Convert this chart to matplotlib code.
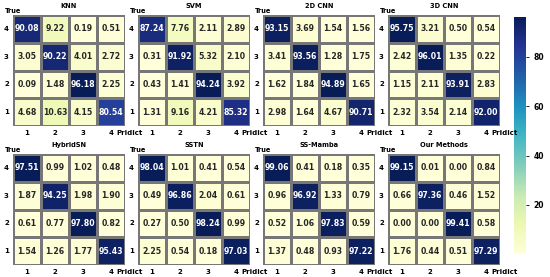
import numpy as np
import matplotlib
matplotlib.use("Agg")
import matplotlib.pyplot as plt
import seaborn as sns

# Data (rows shown top to bottom: True 4, 3, 2, 1; columns: Predict 1..4)
titles = ["KNN", "SVM", "2D CNN", "3D CNN", "HybridSN", "SSTN", "SS-Mamba", "Our Methods"]
row_labels = ["4", "3", "2", "1"]
col_labels = ["1", "2", "3", "4"]

knn = [[90.08, 9.22, 0.19, 0.51],
       [3.05, 90.22, 4.01, 2.72],
       [0.09, 1.48, 96.18, 2.25],
       [4.68, 10.63, 4.15, 80.54]]
svm = [[87.24, 7.76, 2.11, 2.89],
       [0.31, 91.92, 5.32, 2.10],
       [0.43, 1.41, 94.24, 3.92],
       [1.31, 9.16, 4.21, 85.32]]
cnn2d = [[93.15, 3.69, 1.54, 1.56],
         [3.41, 93.56, 1.28, 1.75],
         [1.62, 1.84, 94.89, 1.65],
         [2.98, 1.64, 4.67, 90.71]]
cnn3d = [[95.75, 3.21, 0.50, 0.54],
         [2.42, 96.01, 1.35, 0.22],
         [1.15, 2.11, 93.91, 2.83],
         [2.32, 3.54, 2.14, 92.00]]
hybridsn = [[97.51, 0.99, 1.02, 0.48],
            [1.87, 94.25, 1.98, 1.90],
            [0.61, 0.77, 97.80, 0.82],
            [1.54, 1.26, 1.77, 95.43]]
sstn = [[98.04, 1.01, 0.41, 0.54],
        [0.49, 96.86, 2.04, 0.61],
        [0.27, 0.50, 98.24, 0.99],
        [2.25, 0.54, 0.18, 97.03]]
ssmamba = [[99.06, 0.41, 0.18, 0.35],
           [0.96, 96.92, 1.33, 0.79],
           [0.52, 1.06, 97.83, 0.59],
           [1.37, 0.48, 0.93, 97.22]]
ours = [[99.15, 0.01, 0.00, 0.84],
        [0.66, 97.36, 0.46, 1.52],
        [0.00, 0.00, 99.41, 0.58],
        [1.76, 0.44, 0.51, 97.29]]
matrices = [knn, svm, cnn2d, cnn3d, hybridsn, sstn, ssmamba, ours]

fig = plt.figure(figsize=(5.5, 2.77), dpi=100)
W, H = 550, 277
lefts = [13, 138, 263, 388]
tops = [15, 154]
aw, ah = 112, 111

cax = fig.add_axes([514 / W, 1 - 254 / H, 12 / W, 237 / H])

for i, (name, m) in enumerate(zip(titles, matrices)):
    r, c = divmod(i, 4)
    ax = fig.add_axes([lefts[c] / W, 1 - (tops[r] + ah) / H, aw / W, ah / H])
    sns.heatmap(np.array(m), ax=ax, cmap="YlGnBu", annot=True, fmt=".2f",
                annot_kws={"fontsize": 5.6, "fontweight": "bold"},
                linewidths=0.8, linecolor="#777777",
                cbar=(i == 0), cbar_ax=cax if i == 0 else None,
                xticklabels=col_labels, yticklabels=row_labels)
    ax.set_title(name, fontsize=4.8, fontweight="bold", pad=5)
    ax.tick_params(length=0, pad=3, labelsize=5)
    for lab in ax.get_xticklabels():
        lab.set_fontweight("bold")
    ax.set_yticklabels(row_labels, rotation=0, fontweight="bold", fontsize=5)
    ax.text(0, 1.005, "True", transform=ax.transAxes, ha="center", va="bottom",
            fontsize=4.8, fontweight="bold")
    ax.annotate("Pridict", xy=(3.68, 0), xycoords=("data", "axes fraction"),
                xytext=(0, -3), textcoords="offset points", ha="left", va="top",
                fontsize=5, fontweight="bold")

cax.set_yticks([20, 40, 60, 80])
cax.tick_params(labelsize=5.5, length=2, width=0.6)
for lab in cax.get_yticklabels():
    lab.set_fontweight("bold")

fig.savefig("out.png", dpi=100)
